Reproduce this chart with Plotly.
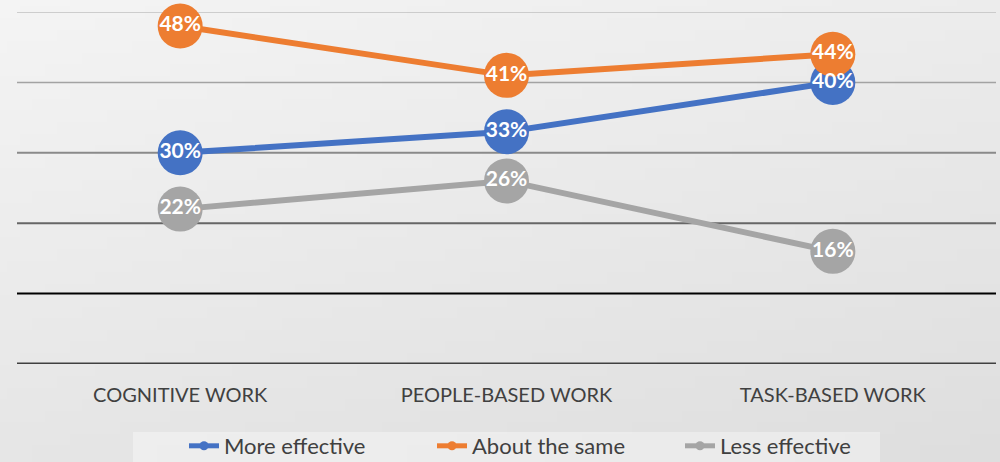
import base64, struct, zlib
import plotly.graph_objects as go

categories = ["COGNITIVE WORK", "PEOPLE-BASED WORK", "TASK-BASED WORK"]
more_effective = [30, 33, 40]
about_same = [48, 41, 44]
less_effective = [22, 26, 16]
series_names = ["More effective", "About the same", "Less effective"]
series_values = [more_effective, about_same, less_effective]
series_colors = ["#4472C4", "#ED7D31", "#A5A5A5"]
grid_values = [0, 10, 20, 30, 40, 50]
grid_colors = ["#404040", "#000000", "#666666", "#8a8a8a", "#a3a3a3", "#c0c0c0"]
grid_widths = [3, 2, 2, 2, 1.5, 1.5]

W, H = 1000, 462
ML, MR, MT, MB = 17, 4, 12, 98
PW, PH = W - ML - MR, H - MT - MB


def gradient_png(w, h):
    rows = []
    for j in range(h):
        row = bytearray([0])
        for i in range(w):
            t = 0.35 * i / (w - 1) + 0.65 * j / (h - 1)
            v = int(round(244 - 22 * t))
            row += bytes([v, v, v])
        rows.append(bytes(row))
    raw = b"".join(rows)

    def chunk(tag, data):
        c = struct.pack(">I", len(data)) + tag + data
        return c + struct.pack(">I", zlib.crc32(tag + data) & 0xFFFFFFFF)

    png = b"\x89PNG\r\n\x1a\n"
    png += chunk(b"IHDR", struct.pack(">IIBBBBB", w, h, 8, 2, 0, 0, 0))
    png += chunk(b"IDAT", zlib.compress(raw, 9))
    png += chunk(b"IEND", b"")
    return "data:image/png;base64," + base64.b64encode(png).decode()


FONT = "Lato"
fig = go.Figure()

for name, vals, col in zip(series_names, series_values, series_colors):
    fig.add_trace(go.Scatter(
        x=categories, y=vals, mode="lines+markers", name=name,
        line=dict(color=col, width=6),
        marker=dict(size=45, color=col),
        showlegend=False, cliponaxis=False, hoverinfo="skip",
    ))
for name, vals, col in zip(series_names, series_values, series_colors):
    fig.add_trace(go.Scatter(
        x=categories, y=vals, mode="text",
        text=[f"{v}%" for v in vals], textposition="middle center",
        textfont=dict(family=FONT, size=21, color="white", weight="bold"),
        showlegend=False, cliponaxis=False, hoverinfo="skip",
    ))
for name, col in zip(series_names, series_colors):
    fig.add_trace(go.Scatter(
        x=[None], y=[None], mode="lines+markers", name=name,
        line=dict(color=col, width=5), marker=dict(size=9, color=col),
    ))

shapes = []
for gv, gc, gw in zip(grid_values, grid_colors, grid_widths):
    shapes.append(dict(type="line", xref="paper", yref="y", x0=0, x1=1, y0=gv, y1=gv,
                       line=dict(color=gc, width=gw), layer="below"))
shapes.append(dict(type="rect", xref="paper", yref="paper",
                   x0=(133 - ML) / PW, x1=(880 - ML) / PW,
                   y0=-(H - MT) / PH, y1=-(432 - MT - PH) / PH,
                   fillcolor="rgba(255,255,255,0.35)", line=dict(width=0), layer="below"))

fig.update_layout(
    width=W, height=H,
    margin=dict(l=ML, r=MR, t=MT, b=MB),
    paper_bgcolor="#e8e8e8", plot_bgcolor="rgba(0,0,0,0)",
    font=dict(family=FONT, color="#404040"),
    images=[dict(source=gradient_png(80, 40), xref="paper", yref="paper",
                 x=-ML / PW, y=1 + MT / PH, sizex=W / PW, sizey=H / PH,
                 xanchor="left", yanchor="top", sizing="stretch", layer="below")],
    shapes=shapes,
    xaxis=dict(showgrid=False, zeroline=False, showline=False, range=[-0.5, 2.5],
               ticks="outside", ticklen=13, tickcolor="rgba(0,0,0,0)",
               tickfont=dict(family=FONT, size=20, color="#404040"),
               fixedrange=True, automargin=False),
    yaxis=dict(range=[0, 50], showgrid=False, zeroline=False, showline=False,
               showticklabels=False, fixedrange=True, automargin=False),
    legend=dict(orientation="h", xref="container", yref="container",
                x=184 / W, xanchor="left",
                y=1 - 446 / H, yanchor="middle",
                entrywidth=203, entrywidthmode="pixels",
                font=dict(family=FONT, size=22, color="#404040"),
                bgcolor="rgba(0,0,0,0)", itemclick=False, itemdoubleclick=False),
    showlegend=True,
)

fig.write_html("out.html", config={"displayModeBar": False},
               post_script="document.body.style.margin='0';")
